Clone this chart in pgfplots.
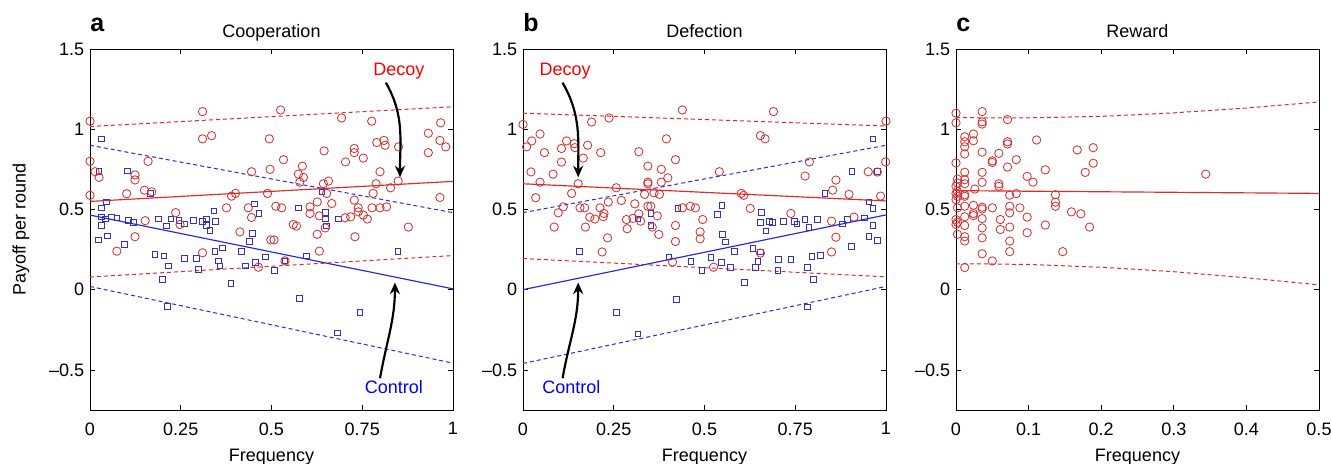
\documentclass[border=0pt]{standalone}
\usepackage{fontspec}
\setmainfont{Liberation Sans}
\usepackage{pgfplots}
\pgfplotsset{compat=1.18}
\usepgfplotslibrary{groupplots}
\usetikzlibrary{arrows.meta,calc}

\definecolor{mred}{RGB}{230,40,40}
\definecolor{mblue}{RGB}{40,40,225}
\definecolor{mkred}{RGB}{215,50,50}
\definecolor{mkblue}{RGB}{50,50,200}

\tikzset{
  arr/.style={-{Stealth[length=7pt,width=6pt]}, line width=1.3pt, black},
  plabel/.style={font=\bfseries\fontsize{15}{17}\selectfont, anchor=base west, inner sep=0pt},
}

\pgfplotsset{
  payoff/.style={
    scale only axis, width=217.8pt, height=216.6pt,
    clip mode=individual,
    ymin=-0.75, ymax=1.5, ytick={-0.5,0,0.5,1,1.5},
    yticklabels={\textendash0.5,0,0.5,1,1.5},
    tick align=inside, tick pos=both,
    major tick length=3pt,
    tick style={black, line width=0.4pt},
    axis line style={line width=0.5pt},
    xlabel=Frequency,
    tick label style={font=\fontsize{10.8}{13}\selectfont},
    xticklabel style={yshift=-4pt},
    xlabel style={yshift=-1.5pt},
    label style={font=\fontsize{10.8}{13}\selectfont},
    title style={font=\fontsize{10.8}{13}\selectfont, at={(rel axis cs:0.5,1)}, anchor=base, yshift=1pt},
    /pgf/number format/assume math mode=true,
  },
  cmark/.style={only marks, mark=o, mark size=2.5pt, mkred, mark options={line width=0.5pt}},
  smark/.style={only marks, mark=square, mark size=1.7pt, mkblue, mark options={line width=0.5pt}},
  fitline/.style={no marks, line width=0.7pt},
  bandline/.style={no marks, line width=0.6pt, dash pattern=on 2.4pt off 1.8pt},
}

\begin{document}
\begin{tikzpicture}
\begin{groupplot}[group style={group size=3 by 1, horizontal sep=42pt}, payoff]

% ---- a: cooperation
\nextgroupplot[title=Cooperation, xmin=0, xmax=1, xtick={0,0.25,0.5,0.75,1},
  xticklabels={0,0.25,0.5,0.75,1}, ylabel={Payoff per round},
  ylabel style={at={(rel axis cs:-0.19,0.5)}, anchor=center}]
\addplot[bandline, mred] coordinates {(0,1.017) (1,1.14)};
\addplot[bandline, mred] coordinates {(0,0.079) (1,0.2125)};
\addplot[bandline, mblue] coordinates {(0,0.90) (1,0.48)};
\addplot[bandline, mblue] coordinates {(0,0.02) (1,-0.458)};
\addplot[smark] coordinates {
(0.032,0.94)(0.025,0.735)(0.103,0.74)(0.166,0.60)(0.032,0.51)(0.045,0.547)(0.032,0.454)
(0.043,0.44)(0.059,0.454)(0.074,0.448)(0.032,0.40)(0.023,0.31)(0.048,0.335)(0.095,0.28)
(0.106,0.43)(0.119,0.42)(0.188,0.44)(0.211,0.398)(0.223,0.44)(0.245,0.43)(0.26,0.41)
(0.285,0.43)(0.31,0.427)(0.321,0.44)(0.321,0.40)(0.33,0.37)(0.346,0.427)(0.341,0.49)
(0.453,0.535)(0.465,0.475)(0.574,0.51)(0.648,0.48)(0.648,0.44)(0.652,0.398)(0.684,0.44)
(0.639,0.61)(0.447,0.35)(0.44,0.30)(0.179,0.22)(0.204,0.21)(0.216,0.148)(0.26,0.194)
(0.294,0.194)(0.298,0.125)(0.344,0.24)(0.365,0.26)(0.353,0.18)(0.358,0.148)(0.418,0.24)
(0.429,0.148)(0.455,0.17)(0.484,0.204)(0.508,0.12)(0.537,0.18)(0.597,0.21)(0.848,0.24)
(0.2,0.062)(0.388,0.04)(0.577,-0.055)(0.214,-0.104)(0.744,-0.14)(0.682,-0.27)};
\addplot[cmark] coordinates {
(0,1.05)(0.31,1.11)(0.525,1.12)(0.693,1.07)(0.776,1.05)(0.966,1.04)(0.31,0.94)(0.335,0.96)
(0.494,0.94)(0.932,0.975)(0.964,0.93)(0.98,0.89)(0.932,0.854)(0.79,0.917)(0.81,0.93)
(0.813,0.90)(0.85,0.89)(0.645,0.865)(0.728,0.88)(0.728,0.854)(0.753,0.82)(0.704,0.796)
(0.533,0.81)(0.585,0.77)(0.16,0.80)(0,0.80)(0.014,0.735)(0.025,0.70)(0.124,0.715)
(0.124,0.684)(0.445,0.735)(0.496,0.75)(0.574,0.72)(0.588,0.70)(0.578,0.67)(0.799,0.735)
(0.788,0.66)(0.849,0.677)(0.828,0.635)(0.643,0.66)(0.657,0.677)(0.652,0.60)(0.78,0.60)
(0,0.588)(0.101,0.598)(0.15,0.62)(0.17,0.61)(0.39,0.583)(0.401,0.60)(0.489,0.60)
(0.964,0.575)(0.666,0.537)(0.626,0.547)(0.728,0.558)(0.512,0.52)(0.528,0.51)(0.376,0.51)
(0.436,0.51)(0.445,0.45)(0.606,0.516)(0.606,0.475)(0.632,0.46)(0.739,0.51)(0.739,0.485)
(0.753,0.465)(0.764,0.44)(0.777,0.51)(0.799,0.51)(0.817,0.516)(0.703,0.448)(0.718,0.454)
(0.236,0.48)(0.152,0.43)(0.248,0.406)(0.56,0.406)(0.569,0.396)(0.648,0.385)(0.877,0.39)
(0.413,0.36)(0.626,0.345)(0.498,0.31)(0.507,0.31)(0.73,0.33)(0.124,0.33)(0.074,0.24)
(0.31,0.23)(0.632,0.24)(0.464,0.14)(0.537,0.18)};
\addplot[fitline, mred] coordinates {(0,0.55) (1,0.675)};
\addplot[fitline, mblue] coordinates {(0,0.465) (1,0.005)};
\node[plabel] at (rel axis cs:0,1) [yshift=10.3pt] {a};
\node[text=red, font=\fontsize{10.8}{13}\selectfont] at (axis cs:0.851,1.364) {Decoy};
\node[text=blue, font=\fontsize{10.8}{13}\selectfont] at (axis cs:0.837,-0.608) {Control};
\draw[arr] (axis cs:0.815,1.29) to[out=-60,in=90] (axis cs:0.854,0.70);
\draw[arr] (axis cs:0.799,-0.552) to[out=80,in=-90] (axis cs:0.84,0.045);

% ---- b: defection
\nextgroupplot[title=Defection, xmin=0, xmax=1, xtick={0,0.25,0.5,0.75,1},
  xticklabels={0,0.25,0.5,0.75,1}]
\addplot[bandline, mred] coordinates {(0,1.10) (1,1.02)};
\addplot[bandline, mred] coordinates {(0,0.194) (1,0.08)};
\addplot[bandline, mblue] coordinates {(0,0.48) (1,0.90)};
\addplot[bandline, mblue] coordinates {(0,-0.46) (1,0.02)};
\addplot[smark] coordinates {
(0.964,0.94)(0.906,0.735)(0.976,0.735)(0.832,0.60)(0.953,0.546)(0.964,0.506)(0.94,0.448)
(0.964,0.40)(0.953,0.333)(0.976,0.306)(0.894,0.438)(0.88,0.41)(0.905,0.27)(0.656,0.48)
(0.654,0.42)(0.669,0.366)(0.678,0.425)(0.688,0.42)(0.718,0.425)(0.747,0.425)(0.755,0.41)
(0.777,0.437)(0.788,0.39)(0.811,0.437)(0.548,0.527)(0.535,0.469)(0.55,0.344)(0.558,0.298)
(0.582,0.24)(0.633,0.256)(0.654,0.235)(0.427,0.506)(0.352,0.475)(0.352,0.402)(0.317,0.44)
(0.402,0.205)(0.463,0.177)(0.493,0.12)(0.518,0.2)(0.546,0.17)(0.571,0.14)(0.64,0.14)
(0.647,0.177)(0.704,0.19)(0.738,0.19)(0.796,0.206)(0.82,0.215)(0.784,0.14)(0.702,0.12)
(0.8,0.065)(0.61,0.045)(0.155,0.24)(0.422,-0.06)(0.257,-0.14)(0.317,-0.275)(0.784,-0.108)};
\addplot[cmark] coordinates {
(0,1.03)(0.237,1.07)(0.189,1.045)(0.439,1.12)(0.69,1.11)(1.0,1.05)(0.01,0.89)(0.024,0.927)
(0.047,0.97)(0.059,0.854)(0.106,0.88)(0.12,0.927)(0.141,0.91)(0.143,0.885)(0.178,0.90)
(0.166,0.82)(0.214,0.854)(0.106,0.795)(0.395,0.94)(0.319,0.86)(0.654,0.96)(0.667,0.94)
(0.022,0.734)(0.083,0.72)(0.047,0.67)(0.035,0.573)(0.152,0.66)(0.134,0.60)(0.257,0.635)
(0.344,0.77)(0.381,0.75)(0.399,0.697)(0.42,0.81)(0.344,0.67)(0.344,0.66)(0.335,0.594)
(0.361,0.604)(0.376,0.594)(0.381,0.67)(0.541,0.735)(0.601,0.60)(0.608,0.588)(0.789,0.796)
(0.777,0.708)(0.862,0.683)(0.853,0.62)(0.898,0.594)(0.951,0.735)(0.976,0.733)(0.985,0.583)
(0.999,0.796)(0.097,0.479)(0.111,0.516)(0.157,0.51)(0.17,0.51)(0.184,0.452)(0.198,0.44)
(0.212,0.51)(0.223,0.475)(0.221,0.455)(0.235,0.546)(0.086,0.39)(0.172,0.39)(0.233,0.323)
(0.218,0.235)(0.271,0.556)(0.308,0.535)(0.285,0.437)(0.303,0.444)(0.319,0.473)(0.324,0.427)
(0.344,0.52)(0.352,0.52)(0.37,0.46)(0.356,0.39)(0.374,0.344)(0.287,0.38)(0.42,0.40)
(0.42,0.30)(0.439,0.51)(0.461,0.52)(0.475,0.51)(0.495,0.437)(0.488,0.36)(0.488,0.317)
(0.626,0.506)(0.738,0.475)(0.85,0.427)(0.862,0.327)(0.85,0.235)(0.912,0.452)(0.525,0.14)
(0.412,0.172)(0.654,0.228)};
\addplot[fitline, mred] coordinates {(0,0.66) (1,0.553)};
\addplot[fitline, mblue] coordinates {(0,0.0) (1,0.466)};
\node[plabel] at (rel axis cs:0,1) [yshift=10.3pt] {b};
\node[text=red, font=\fontsize{10.8}{13}\selectfont] at (axis cs:0.116,1.364) {Decoy};
\node[text=blue, font=\fontsize{10.8}{13}\selectfont] at (axis cs:0.133,-0.608) {Control};
\draw[arr] (axis cs:0.109,1.29) to[out=-60,in=90] (axis cs:0.152,0.70);
\draw[arr] (axis cs:0.109,-0.552) to[out=80,in=-90] (axis cs:0.152,0.045);

% ---- c: reward
\nextgroupplot[title=Reward, xmin=0, xmax=0.5, xtick={0,0.1,0.2,0.3,0.4,0.5},
  xticklabels={0,0.1,0.2,0.3,0.4,0.5}]
\addplot[bandline, mred] coordinates {(0,1.073)(0.05,1.070)(0.1,1.071)(0.2,1.080)(0.3,1.102)(0.4,1.132)(0.5,1.170)};
\addplot[bandline, mred] coordinates {(0,0.161)(0.05,0.160)(0.1,0.157)(0.2,0.140)(0.3,0.112)(0.4,0.074)(0.5,0.030)};
\addplot[cmark] coordinates {
(0,1.10)(0,1.04)(0,0.79)(0.002,0.689)(0.002,0.664)(0,0.644)(0.002,0.613)(0,0.599)(0.002,0.582)
(0,0.561)(0.002,0.51)(0,0.437)(0.002,0.42)(0,0.407)(0.002,0.345)
(0.012,0.953)(0.012,0.922)(0.012,0.891)(0.012,0.846)(0.012,0.732)(0.012,0.685)(0.012,0.66)
(0.012,0.592)(0.012,0.582)(0.012,0.52)(0.012,0.454)(0.012,0.40)(0.012,0.33)(0.012,0.303)
(0.012,0.138)(0.024,0.97)(0.024,0.928)(0.024,0.526)(0.024,0.475)(0.024,0.462)(0.026,0.627)
(0.036,1.11)(0.036,1.046)(0.036,1.032)(0.036,0.857)(0.036,0.731)(0.036,0.669)(0.036,0.514)
(0.036,0.503)(0.036,0.443)(0.036,0.385)(0.036,0.323)(0.036,0.224)(0.05,0.803)(0.05,0.793)
(0.05,0.51)(0.05,0.179)(0.059,0.85)(0.059,0.66)(0.059,0.644)(0.061,0.437)(0.061,0.375)
(0.071,1.06)(0.071,0.922)(0.071,0.908)(0.071,0.764)(0.074,0.589)(0.074,0.52)(0.074,0.479)
(0.074,0.39)(0.074,0.303)(0.074,0.237)(0.083,0.81)(0.083,0.599)(0.088,0.51)(0.098,0.706)
(0.098,0.452)(0.098,0.355)(0.106,0.67)(0.111,0.933)(0.123,0.747)(0.123,0.403)(0.137,0.592)
(0.137,0.545)(0.137,0.52)(0.147,0.237)(0.159,0.485)(0.167,0.871)(0.172,0.473)(0.178,0.731)
(0.184,0.39)(0.189,0.885)(0.189,0.788)(0.344,0.72)};
\addplot[fitline, mred] coordinates {(0,0.617)(0.5,0.600)};
\node[plabel] at (rel axis cs:0,1) [yshift=10.3pt] {c};
\end{groupplot}
\pgfresetboundingbox
\path[use as bounding box] ($(group c1r1.south west)+(-54pt,-32.4pt)$) rectangle ($(group c1r1.south west)+(744.6pt,246pt)$);
\end{tikzpicture}
\end{document}
